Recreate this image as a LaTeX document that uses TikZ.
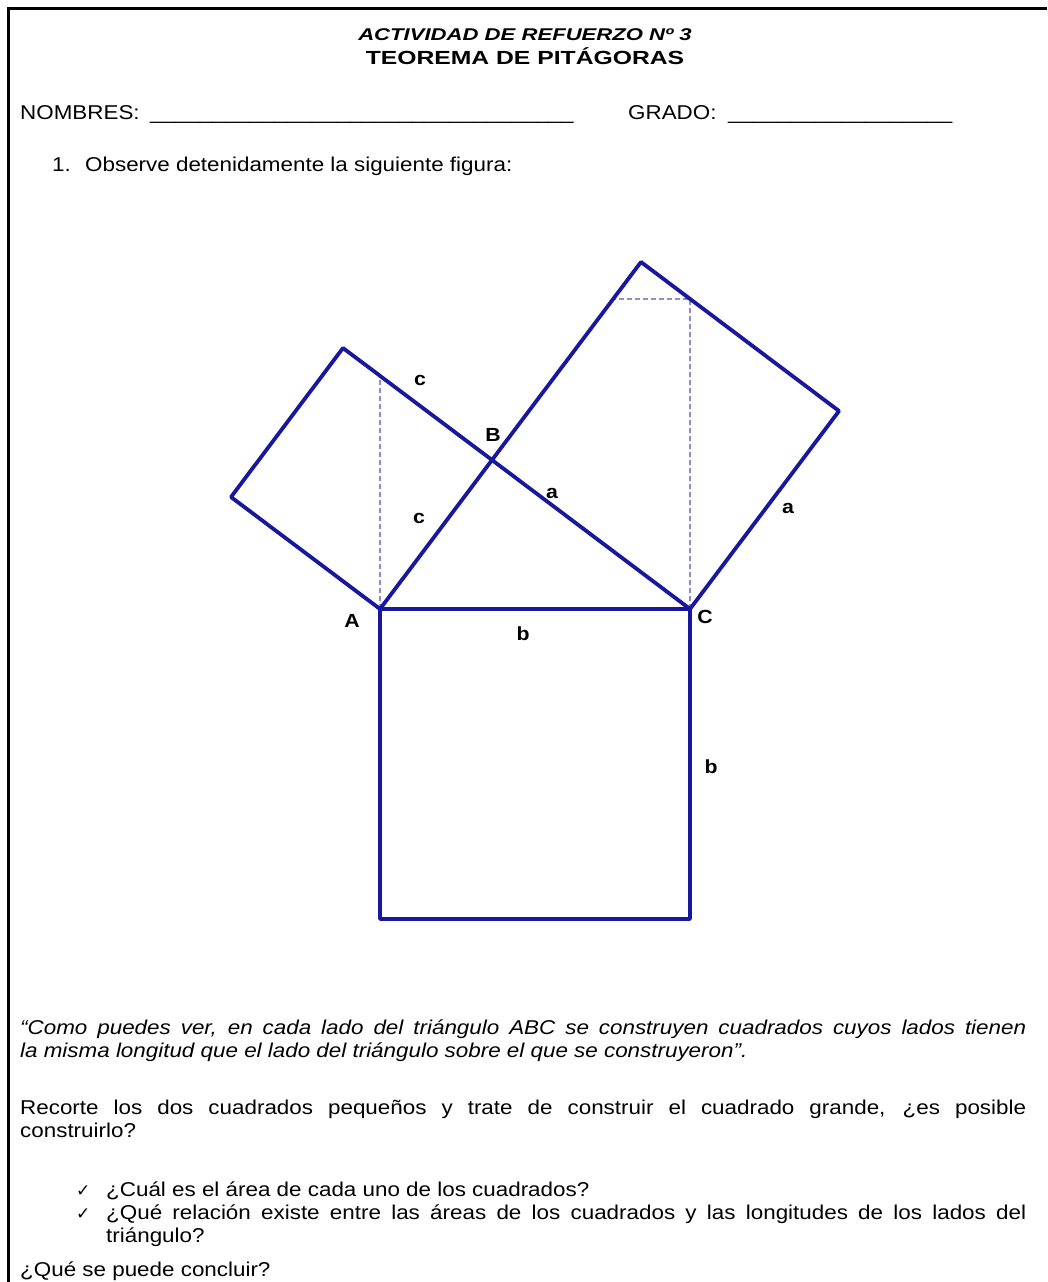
\documentclass[tikz,border=0pt]{standalone}
\usepackage{fontspec}
\setmainfont[FakeStretch=1.12]{Liberation Sans}
\newfontfamily\headfont[FakeStretch=1.3]{Liberation Sans}
\newfontfamily\tickfont{DejaVu Sans}
\usetikzlibrary{calc}
\definecolor{figblue}{RGB}{24,24,158}

\begin{document}
\begin{tikzpicture}[
  x=1pt,y=-1pt,
  txt/.style={anchor=base west,inner sep=0pt,font=\fontsize{20}{23}\selectfont},
  head/.style={anchor=base,inner sep=0pt},
  lab/.style={inner sep=0pt,font=\fontsize{19}{21}\selectfont\bfseries},
  side/.style={draw=figblue,line width=3.8pt,line join=round},
  aux/.style={draw=figblue!75,line width=1.3pt,dash pattern=on 5pt off 3pt},
  frame/.style={draw,line width=3pt}
]
\useasboundingbox (0,0) rectangle (1047,1282);
\coordinate (topright) at (1047,8);
\coordinate (bottomleft) at (8,1282);
\draw[frame] (topright) -| (bottomleft);

\node[head,font=\headfont\fontsize{17}{20}\selectfont\bfseries\itshape] (title) at (525,40) {ACTIVIDAD DE REFUERZO Nº 3};
\node[head,font=\headfont\fontsize{19}{22}\selectfont\bfseries] (subtitle) at (525,64) {TEOREMA DE PITÁGORAS};

\node[txt] (nombres) at (20,119) {NOMBRES:};
\node[txt] (blank1) at (150,119) {\_\_\_\_\_\_\_\_\_\_\_\_\_\_\_\_\_\_\_\_\_\_\_\_\_\_\_\_\_\_\_\_\_\_};
\node[txt] (grado) at (628,119) {GRADO:};
\node[txt] (blank2) at (728,119) {\_\_\_\_\_\_\_\_\_\_\_\_\_\_\_\_\_\_};
\node[txt] (num1) at (52,171) {1.};
\node[txt] (item1) at (85,171) {Observe detenidamente la siguiente figura:};

\coordinate (A) at (380,609);
\coordinate (B) at (492,460);
\coordinate (C) at (690,609);
\coordinate (AB1) at ($(A)!1!90:(B)$);
\coordinate (AB2) at ($(B)!1!-90:(A)$);
\coordinate (BC1) at ($(B)!1!90:(C)$);
\coordinate (BC2) at ($(C)!1!-90:(B)$);
\coordinate (AC1) at ($(A)!1!-90:(C)$);
\coordinate (AC2) at ($(C)!1!90:(A)$);
\coordinate (Aup) at ($(A)+(0,-50)$);
\coordinate (Cup) at ($(C)+(0,-50)$);
\coordinate (AD) at (intersection of A--Aup and B--AB2);
\coordinate (CD) at (intersection of C--Cup and BC1--BC2);
\coordinate (CDl) at ($(CD)+(-50,0)$);
\coordinate (BD) at (intersection of CD--CDl and B--BC1);

\draw[aux] (A) -- (AD);
\draw[aux] (C) -- (CD) -- (BD);
\draw[side] (A) -- (AB1) -- (AB2) -- (B) -- cycle;
\draw[side] (B) -- (BC1) -- (BC2) -- (C) -- cycle;
\draw[side] (A) -- (AC1) -- (AC2) -- (C) -- cycle;

\node[lab] (labA) at ($(A)+(-28,12)$) {A};
\node[lab] (labB) at ($(B)+(1,-25)$) {B};
\node[lab] (labC) at ($(C)+(15,8)$) {C};
\node[lab] (c1) at (420,380) {c};
\node[lab] (c2) at (419,518) {c};
\node[lab] (a1) at (552,493) {a};
\node[lab] (a2) at (788,508) {a};
\node[lab] (b1) at (523,634) {b};
\node[lab] (b2) at (711,767) {b};

\node[txt,font=\fontsize{20}{23}\selectfont\itshape] (quote1) at (20,1034) {\makebox[1006pt][s]{“Como puedes ver, en cada lado del triángulo ABC se construyen cuadrados cuyos lados tienen}};
\node[txt,font=\fontsize{20}{23}\selectfont\itshape] (quote2) at (20,1057) {la misma longitud que el lado del triángulo sobre el que se construyeron”.};
\node[txt] (task1) at (20,1114) {\makebox[1006pt][s]{Recorte los dos cuadrados pequeños y trate de construir el cuadrado grande, ¿es posible}};
\node[txt] (task2) at (20,1137) {construirlo?};

\node[txt,font=\tickfont\fontsize{17}{20}\selectfont] (tick1) at (76,1196) {✓};
\node[txt] (ask1) at (106,1196) {¿Cuál es el área de cada uno de los cuadrados?};
\node[txt,font=\tickfont\fontsize{17}{20}\selectfont] (tick2) at (76,1219) {✓};
\node[txt] (ask2) at (106,1219) {\makebox[920pt][s]{¿Qué relación existe entre las áreas de los cuadrados y las longitudes de los lados del}};
\node[txt] (ask3) at (106,1242) {triángulo?};

\node[txt] (concl) at (20,1276) {¿Qué se puede concluir?};
\end{tikzpicture}
\end{document}
